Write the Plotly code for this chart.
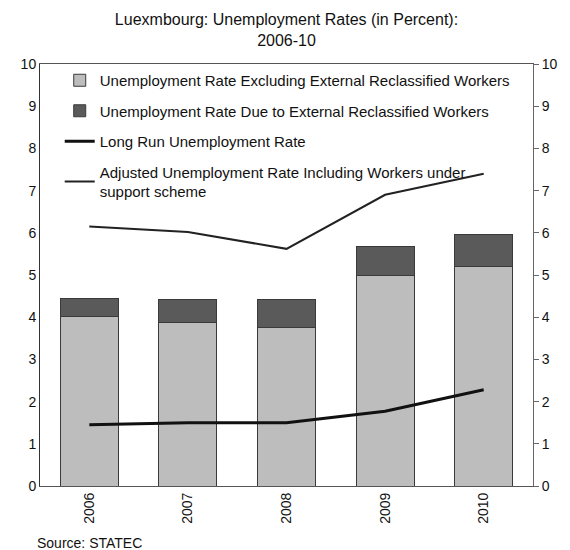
import plotly.graph_objects as go

years = ["2006", "2007", "2008", "2009", "2010"]
excl_reclassified = [4.01, 3.88, 3.76, 4.99, 5.20]
due_reclassified = [0.44, 0.54, 0.65, 0.69, 0.76]
long_run = [1.45, 1.50, 1.50, 1.77, 2.28]
adjusted = [6.15, 6.02, 5.62, 6.90, 7.40]

FONT = "Arial, Liberation Sans, sans-serif"
outline = dict(color="#3a3a3a", width=1)

fig = go.Figure()
fig.add_trace(go.Bar(
    x=years, y=excl_reclassified,
    name="Unemployment Rate Excluding External Reclassified Workers",
    marker=dict(color="#bdbdbd", line=outline),
    legendgroup="a",
))
fig.add_trace(go.Bar(
    x=years, y=due_reclassified,
    name="Unemployment Rate Due to External Reclassified Workers",
    marker=dict(color="#5a5a5a", line=outline),
    legendgroup="b",
))
fig.add_trace(go.Scatter(
    x=years, y=long_run, mode="lines",
    name="Long Run Unemployment Rate",
    line=dict(color="#111111", width=3),
    legendgroup="c",
))
fig.add_trace(go.Scatter(
    x=years, y=adjusted, mode="lines",
    name="Adjusted Unemployment Rate Including Workers under<br>support scheme",
    line=dict(color="#222222", width=2),
    legendgroup="d",
))
# invisible trace carrying the right-hand axis
fig.add_trace(go.Scatter(
    x=years, y=adjusted, yaxis="y2", mode="lines",
    line=dict(width=0), opacity=0, showlegend=False, hoverinfo="skip",
))

fig.update_layout(
    width=570, height=550,
    margin=dict(l=40, r=37, t=64, b=64),
    paper_bgcolor="white", plot_bgcolor="white",
    barmode="stack", bargap=0.41,
    font=dict(family=FONT, size=14, color="#111111"),
    title=dict(
        text="Luexmbourg: Unemployment Rates (in Percent):<br>2006-10",
        x=0.5, xref="paper", xanchor="center",
        y=0.955, yanchor="middle",
        font=dict(family=FONT, size=16, color="#111111"),
    ),
    xaxis=dict(
        type="category", tickangle=-90,
        showline=True, linecolor="#555555", linewidth=1, mirror=True,
        ticks="", showgrid=False,
        tickfont=dict(size=14),
    ),
    yaxis=dict(
        range=[0, 10], dtick=1,
        showline=True, linecolor="#333333", linewidth=1,
        ticks="", showgrid=False, zeroline=False,
        tickfont=dict(size=14),
    ),
    yaxis2=dict(
        range=[0, 10], dtick=1, overlaying="y", side="right",
        showline=True, linecolor="#666666", linewidth=1,
        ticks="outside", ticklen=5, tickcolor="#666666",
        showgrid=False, zeroline=False,
        tickfont=dict(size=14),
    ),
    legend=dict(
        x=0.04, y=1.0, xanchor="left", yanchor="top",
        bgcolor="rgba(0,0,0,0)",
        traceorder="grouped", tracegroupgap=8,
        font=dict(family=FONT, size=15, color="#111111"),
    ),
    annotations=[dict(
        text="Source: STATEC", xref="paper", yref="paper",
        x=-0.01, y=-0.135, xanchor="left", yanchor="middle",
        showarrow=False, font=dict(family=FONT, size=14, color="#111111"),
    )],
)

fig.write_html("out.html")
